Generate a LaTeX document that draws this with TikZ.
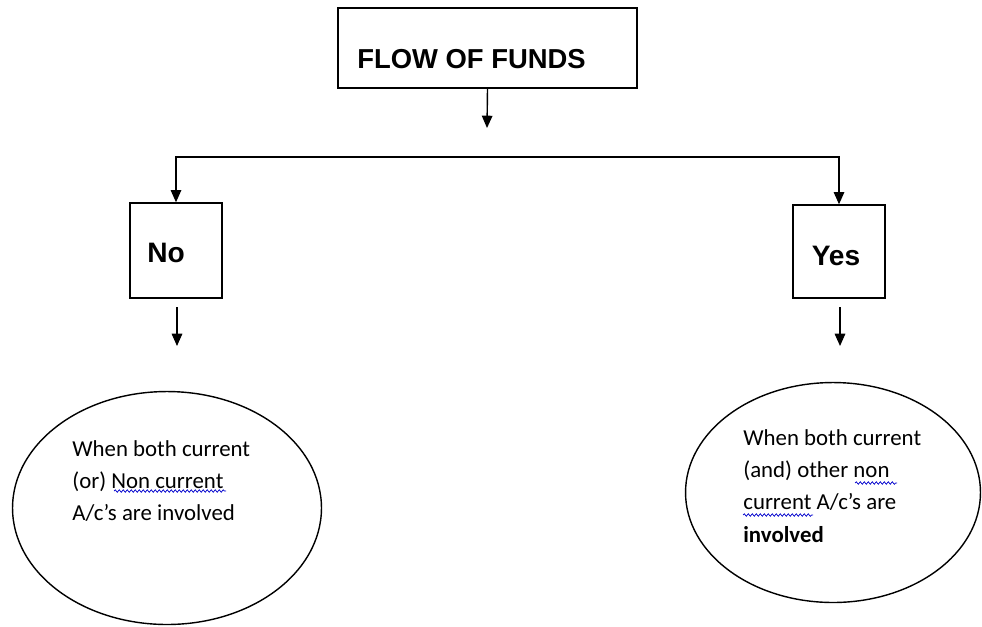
\documentclass[tikz,border=0pt]{standalone}
\usepackage{fontspec}
\setmainfont{Carlito}
\newfontfamily\arialfont{Liberation Sans}
\usetikzlibrary{arrows.meta,shapes,positioning,calc,decorations.pathmorphing}

\tikzset{
    box/.style={draw, line width=0.8pt, inner sep=0pt},
    boxtxt/.style={inner sep=0pt, font=\arialfont\bfseries\fontsize{16}{19}\selectfont},
    oval/.style={ellipse, draw, line width=0.8pt, inner sep=0pt},
    note/.style={align=left, inner sep=0pt, anchor=north west,
        font=\fontsize{13}{18.4}\selectfont},
    arr/.style={line width=0.8pt, -{Triangle[length=7pt,width=6pt]}},
    spell/.style={draw=blue!80!black, line width=0.4pt, decorate,
        decoration={snake, amplitude=0.025cm, segment length=0.08cm}}
}

\begin{document}
\begin{tikzpicture}[x=0.02cm, y=-0.02cm]
    \useasboundingbox (0,0) rectangle (982,626);

    % Top box
    \node[box, minimum width=5.98cm, minimum height=1.6cm] (flow) at (487.5, 48) {};
    \node[anchor=base west, inner sep=0pt, font=\arialfont\bfseries\fontsize{15.6}{18}\selectfont] (flowtxt) at (357, 68) {FLOW OF FUNDS};
    \coordinate (flowend) at (487, 128);
    \draw[arr] (flow.south) -- (flowend);

    % No / Yes boxes
    \node[box, minimum width=1.84cm, minimum height=1.9cm] (no) at (176, 250.5) {};
    \node[box, minimum width=1.84cm, minimum height=1.86cm] (yes) at (839, 251.5) {};
    \node[boxtxt] (notxt) at (166, 253) {No};
    \node[boxtxt] (yestxt) at (836, 256) {Yes};

    \coordinate (split) at (487, 157);
    \draw[arr] (split) -| (no.north);
    \draw[arr] (split) -| (yes.north);

    % Arrows below the boxes
    \coordinate (noA) at (177, 307);
    \coordinate (noB) at (177, 346);
    \coordinate (yesA) at (840, 307);
    \coordinate (yesB) at (840, 346);
    \draw[arr] (noA) -- (noB);
    \draw[arr] (yesA) -- (yesB);

    % Ellipses
    \node[oval, minimum width=6.18cm, minimum height=4.66cm] (left) at (167, 508) {};
    \node[oval, minimum width=5.9cm, minimum height=4.4cm] (right) at (833, 492.5) {};

    \node[note] (lefttxt) at (72, 440) {When both current\\(or) Non current\\A/c’s are involved};
    \node[note] (righttxt) at (743, 429) {When both current\\(and) other non\\current A/c’s are\\\textbf{involved}};

    % spell-check marks
    \coordinate (s1a) at (114, 491);
    \coordinate (s1b) at (226, 491);
    \coordinate (s2a) at (855, 483);
    \coordinate (s2b) at (897, 483);
    \coordinate (s3a) at (743, 515);
    \coordinate (s3b) at (813, 515);
    \draw[spell] (s1a) -- (s1b);
    \draw[spell] (s2a) -- (s2b);
    \draw[spell] (s3a) -- (s3b);
\end{tikzpicture}
\end{document}
